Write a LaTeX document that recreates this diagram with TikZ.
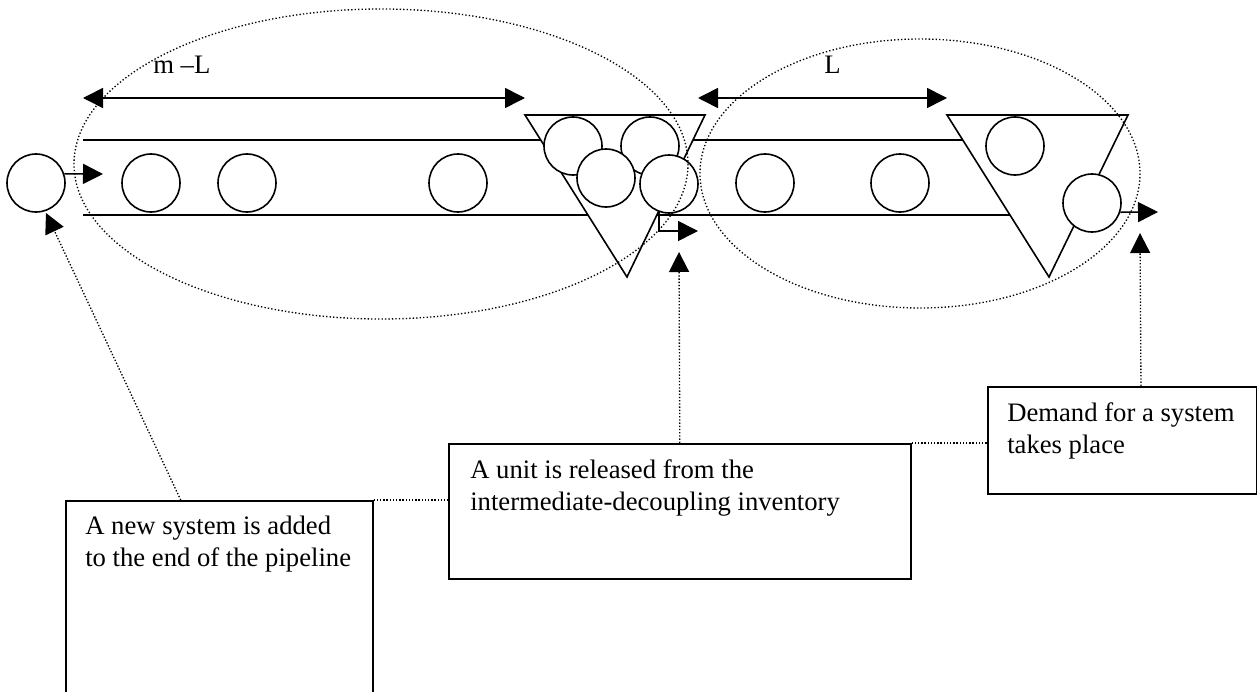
\documentclass[tikz,border=0pt]{standalone}
\usepackage{fontspec}
\setmainfont{Liberation Serif}
\usetikzlibrary{arrows.meta,calc}
\begin{document}
\begin{tikzpicture}[x=0.75pt,y=-0.75pt,
  stroke/.style={line width=1.2pt},
  unit/.style={circle, draw, line width=1.2pt, fill=white, minimum size=43.5pt, inner sep=0pt},
  hopper/.style={draw, line width=1.2pt, fill=white, line join=miter},
  headtip/.style={-{Triangle[length=15pt,width=15pt]}},
  flow/.style={line width=1.2pt, headtip},
  span/.style={line width=1.2pt, {Triangle[length=15pt,width=15pt]}-{Triangle[length=15pt,width=15pt]}},
  zone/.style={line width=1pt, dash pattern=on 1pt off 1.6pt},
  lead/.style={line width=1pt, dash pattern=on 1pt off 1.4pt},
  note/.style={draw, line width=1.2pt, anchor=north west, inner sep=0pt},
  notetext/.style={anchor=north west, align=left, inner sep=0pt, font=\fontsize{20}{24}\selectfont},
  dimlabel/.style={anchor=base west, inner sep=0pt, font=\fontsize{20}{24}\selectfont},
]
\useasboundingbox (0,0) rectangle (1257,692);
\clip (0,0) rectangle (1257,692);

% pipeline walls
\coordinate (pt0) at (83,140);  \coordinate (pt1) at (1000,140);
\coordinate (pb0) at (83,215);  \coordinate (pb1) at (1040,215);
\draw[stroke] (pt0) -- (pt1);
\draw[stroke] (pb0) -- (pb1);

% decoupling inventories (hoppers)
\coordinate (h1a) at (525,115); \coordinate (h1b) at (705,115); \coordinate (h1c) at (627,277);
\coordinate (h2a) at (947,115); \coordinate (h2b) at (1128,115); \coordinate (h2c) at (1049,277);
\path[hopper] (h1a) -- (h1b) -- (h1c) -- cycle;
\path[hopper] (h2a) -- (h2b) -- (h2c) -- cycle;

% units
\node[unit] (c0) at (36,183) {};
\node[unit] (c1) at (151,183) {};
\node[unit] (c2) at (247,183) {};
\node[unit] (c3) at (458,183) {};
\node[unit] (s1) at (573,146) {};
\node[unit] (s2) at (650,146) {};
\node[unit] (s3) at (606,178) {};
\node[unit] (s4) at (669,184) {};
\node[unit] (c4) at (765,183) {};
\node[unit] (c5) at (900,183) {};
\node[unit] (f1) at (1015,146) {};
\node[unit] (f2) at (1092,203) {};

% flows
\coordinate (in0) at (103,174);
\coordinate (rel) at (698,231);
\coordinate (out) at (1158,212);
\draw[flow] (c0.18) -- (in0);
\draw[flow] (s4.250) |- (rel);
\draw[flow] (f2.342) -- (out);

% spans
\coordinate (d1a) at (83,98);  \coordinate (d1b) at (525,98);
\coordinate (d2a) at (698,98); \coordinate (d2b) at (947,98);
\draw[span] (d1a) -- (d1b);
\draw[span] (d2a) -- (d2b);
\node[dimlabel] (lab1) at (153,74) {m –L};
\node[dimlabel] (lab2) at (824,74) {L};

% zones
\draw[zone] (381,164) ellipse [x radius=307, y radius=155];
\draw[zone] (920,173.5) ellipse [x radius=220, y radius=134.5];

% notes
\node[note, minimum width=230.25pt, minimum height=150pt] (b1) at (65,500) {};
\node[note, minimum width=346.5pt, minimum height=101.25pt] (b2) at (448,443) {};
\node[note, minimum width=201.75pt, minimum height=80.25pt] (b3) at (987,386) {};
\node[notetext] (t1) at (85,516) {A new system is added\\to the end of the pipeline};
\node[notetext] (t2) at (470,459) {A unit is released from the\\intermediate-decoupling inventory};
\node[notetext] (t3) at (1007,402) {Demand for a system\\takes place};

% leaders
\coordinate (up1) at (46,213);
\coordinate (up2) at (679,252);
\coordinate (up3) at (1140,233);
\draw[lead, headtip] ($(b1.north west)!0.375!(b1.north east)$) -- (up1);
\draw[lead, headtip] (b2.north) -- (up2);
\draw[lead, headtip] ($(b3.north west)!0.569!(b3.north east)$) -- (up3);
\draw[lead] (b1.north east) -- (b1.north east -| b2.west);
\draw[lead] (b2.north east) -- (b2.north east -| b3.west);
\end{tikzpicture}
\end{document}
